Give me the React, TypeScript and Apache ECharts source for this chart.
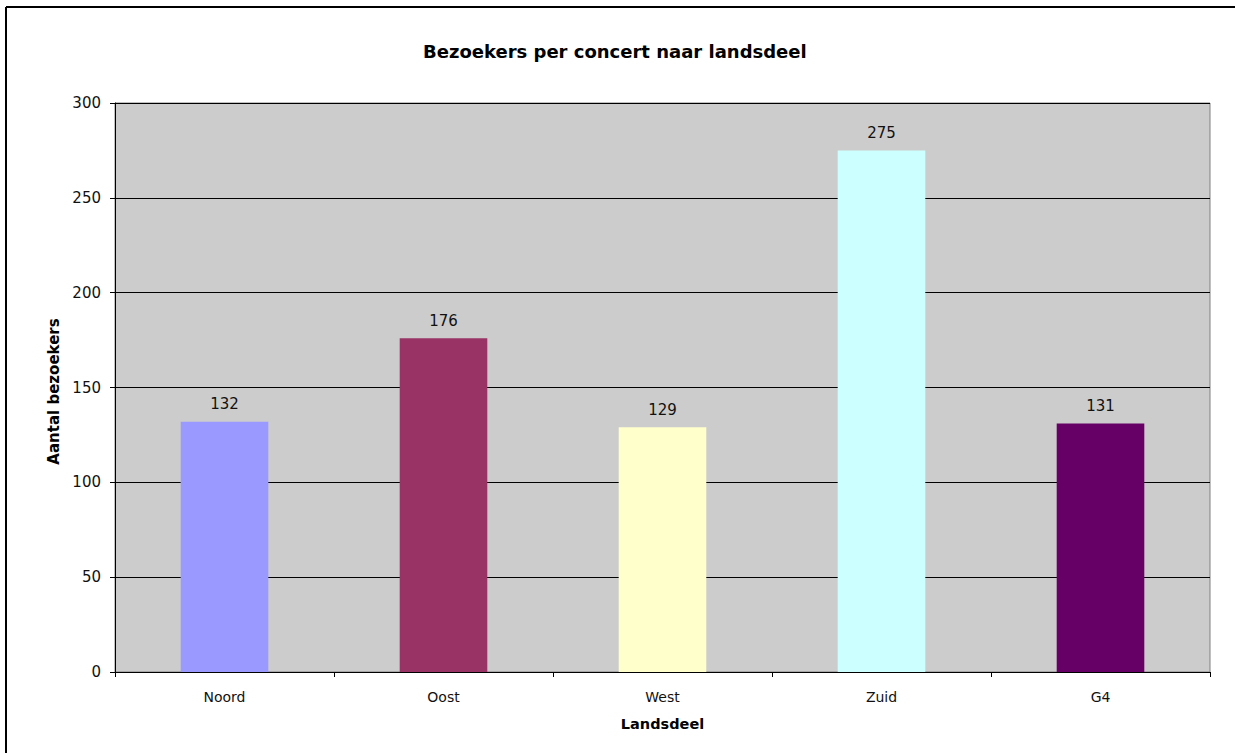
import React, { useEffect, useRef } from "react";
import * as echarts from "echarts";

const categories = ["Noord", "Oost", "West", "Zuid", "G4"];
const visitors = [132, 176, 129, 275, 131];
const barColors = ["#9999FF", "#993366", "#FFFFCC", "#CCFFFF", "#660066"];
const yTicks = { min: 0, max: 300, interval: 50 };

const FONT = "DejaVu Sans, Verdana, sans-serif";

export default function App() {
  const ref = useRef<HTMLDivElement>(null);
  useEffect(() => {
    document.body.style.margin = "0";
    if (!ref.current) return;
    const chart = echarts.init(ref.current, null, { renderer: "svg" });
    chart.setOption({
      animation: false,
      backgroundColor: "#FFFFFF",
      textStyle: { fontFamily: FONT },
      title: {
        text: "Bezoekers per concert naar landsdeel",
        left: 418,
        top: 37,
        textStyle: { fontFamily: FONT, fontSize: 18, fontWeight: "bold", color: "#000" },
      },
      grid: { left: 115, right: 25, top: 103, bottom: 81, show: true, backgroundColor: "#CCCCCC", borderColor: "#808080", borderWidth: 1 },
      xAxis: {
        type: "category",
        data: categories,
        name: "Landsdeel",
        nameLocation: "middle",
        nameGap: 44,
        nameTextStyle: { fontFamily: FONT, fontSize: 14.5, fontWeight: "bold", color: "#000" },
        axisLine: { show: true, lineStyle: { color: "#000", width: 1 } },
        axisTick: { show: true, length: 5, lineStyle: { color: "#000" } },
        axisLabel: { fontFamily: FONT, fontSize: 14, color: "#111", margin: 18 },
      },
      yAxis: {
        type: "value",
        min: yTicks.min,
        max: yTicks.max,
        interval: yTicks.interval,
        name: "Aantal bezoekers",
        nameLocation: "middle",
        nameGap: 49,
        nameTextStyle: { fontFamily: FONT, fontSize: 15, fontWeight: "bold", color: "#000", padding: [0, 8, 0, 0] },
        axisLine: { show: true, lineStyle: { color: "#000", width: 1 } },
        axisTick: { show: true, length: 5, lineStyle: { color: "#000" } },
        axisLabel: { fontFamily: FONT, fontSize: 15, color: "#111", margin: 14 },
        splitLine: { show: true, lineStyle: { color: "#000", width: 1 } },
      },
      series: [
        {
          type: "bar",
          barWidth: "40%",
          data: visitors.map((v, i) => ({ value: v, itemStyle: { color: barColors[i] } })),
          label: { show: true, position: "top", distance: 10, fontFamily: FONT, fontSize: 15, color: "#111" },
        },
      ],
      graphic: [
        { type: "line", shape: { x1: 6, y1: 7, x2: 1235, y2: 7 }, style: { stroke: "#000", lineWidth: 2 } },
        { type: "line", shape: { x1: 6, y1: 7, x2: 6, y2: 753 }, style: { stroke: "#000", lineWidth: 2 } },
      ],
    });
    return () => chart.dispose();
  }, []);
  return <div ref={ref} style={{ width: 1235, height: 753 }} />;
}
